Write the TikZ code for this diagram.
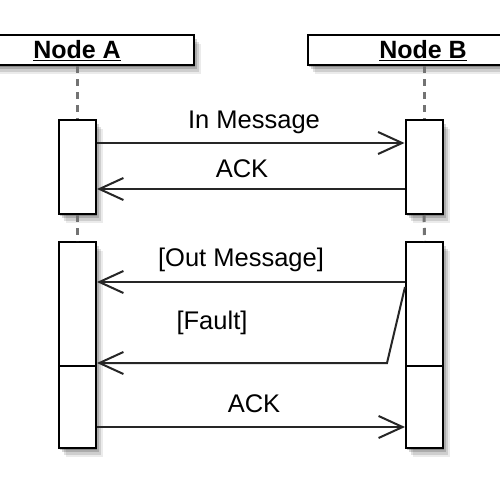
\documentclass[tikz,border=0pt]{standalone}
\usepackage{fontspec}
\setmainfont{Liberation Sans}
\usetikzlibrary{shadows,arrows.meta}
\tikzset{
  shd/.style={
    drop shadow={shadow xshift=1pt,shadow yshift=-2pt,opacity=0.2,fill=black},
    drop shadow={shadow xshift=3pt,shadow yshift=-4pt,opacity=0.16,fill=black},
    drop shadow={shadow xshift=5pt,shadow yshift=-7pt,opacity=0.12,fill=black},
    drop shadow={shadow xshift=7pt,shadow yshift=-9pt,opacity=0.08,fill=black}},
  head/.style={draw=black,line width=2pt,fill=white,shd,minimum height=30pt,inner sep=0pt},
  headtext/.style={font=\fontsize{25}{28}\selectfont\bfseries,inner sep=0pt},
  act/.style={draw=black,line width=2pt,fill=white,shd,minimum width=37pt,inner sep=0pt},
  life/.style={draw=black!55,line width=3pt,dash pattern=on 7pt off 6pt},
  msg/.style={draw=black!85,line width=2pt,-{Straight Barb[length=24pt,width=22pt,line width=2pt]}},
  lbl/.style={font=\fontsize{25.5}{28}\selectfont,inner sep=0pt}
}
\begin{document}
\begin{tikzpicture}[x=1pt,y=-1pt]
\useasboundingbox (0,0) rectangle (500,500);
\fill[white] (0,0) rectangle (500,500);
\clip (0,0) rectangle (500,500);
% heads
\node[head,minimum width=206pt] (hA) at (91,50.5) {};
\node[headtext] (tA) at (77,50.5) {\underline{Node A}};
\node[head,minimum width=206pt] (hB) at (411,50.5) {};
\node[headtext] (tB) at (423,50.5) {\underline{Node B}};
% activations
\node[act,minimum height=94pt] (a1) at (77.5,167) {};
\node[act,minimum height=94pt] (b1) at (424,167) {};
\node[act,minimum height=124pt] (a2) at (77.5,304) {};
\node[act,minimum height=124pt] (b2) at (424.5,304) {};
\node[act,minimum height=82pt] (a3) at (77.5,407) {};
\node[act,minimum height=82pt] (b3) at (424.5,407) {};
% lifelines
\draw[life] (hA.south -| a1.north) -- (a1.north);
\draw[life] (a1.south) -- (a2.north);
\draw[life] (hB.south -| b1.north) -- (b1.north);
\draw[life] (b1.south) -- (b2.north);
% message rows
\coordinate (m1) at (0,143);
\coordinate (m2) at (0,189);
\coordinate (m3) at (0,282);
\coordinate (m4) at (0,287);
\coordinate (f1) at (387,363);
\coordinate (m5) at (0,427);
\draw[msg] (a1.east |- m1) -- (b1.west |- m1);
\draw[msg] (b1.west |- m2) -- (a1.east |- m2);
\draw[msg] (b2.west |- m3) -- (a2.east |- m3);
\draw[msg] (b2.west |- m4) -- (f1) -- (a2.east |- f1);
\draw[msg] (a3.east |- m5) -- (b3.west |- m5);
% labels
\node[lbl] (l1) at (254,122) {In Message};
\node[lbl] (l2) at (242,169) {ACK};
\node[lbl] (l3) at (241,260) {[Out Message]};
\node[lbl] (l4) at (212,323) {[Fault]};
\node[lbl] (l5) at (254,404) {ACK};
\end{tikzpicture}
\end{document}
